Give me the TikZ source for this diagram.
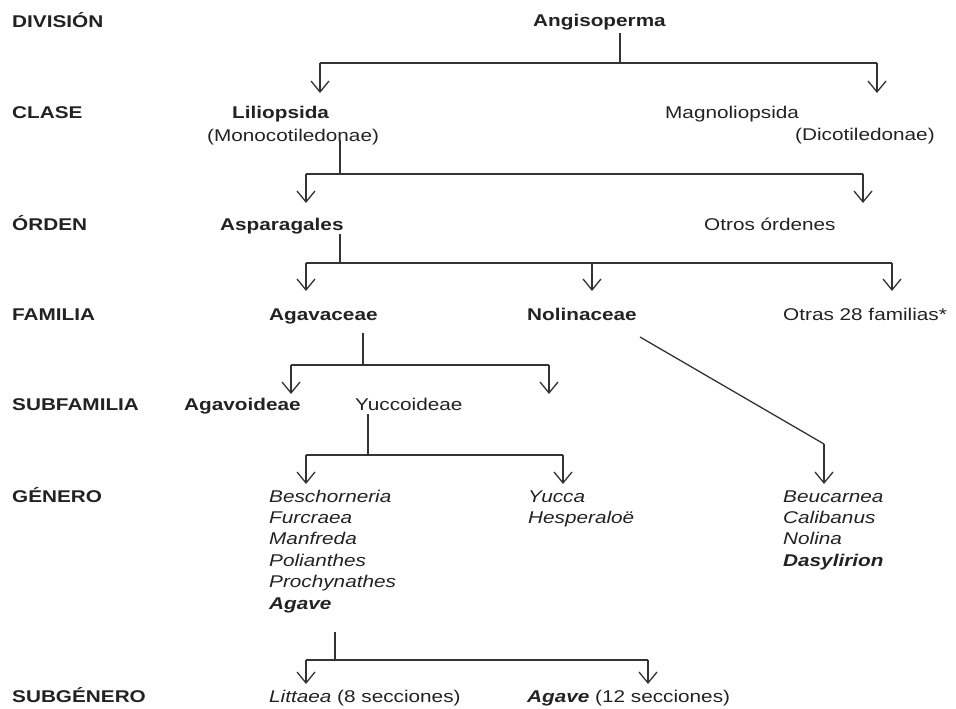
\documentclass[tikz,border=0pt]{standalone}
\usepackage{fontspec}
\setmainfont{Liberation Sans}[FakeStretch=1.22]
\usetikzlibrary{arrows.meta}
\definecolor{ink}{HTML}{222222}
\definecolor{linec}{HTML}{333333}
\tikzset{
  txt/.style={anchor=base west, inner sep=0pt, text=ink, font=\fontsize{17}{21.4}\selectfont},
  lvl/.style={txt, font=\fontsize{17}{21.4}\selectfont\bfseries},
  bld/.style={txt, font=\fontsize{17}{21.4}\selectfont\bfseries},
  itl/.style={txt, font=\fontsize{17}{21.4}\selectfont\itshape},
  bit/.style={txt, font=\fontsize{17}{21.4}\selectfont\bfseries\itshape},
  ln/.style={draw=linec, line width=1.3pt},
  arr/.style={ln, -{Straight Barb[length=11pt,width=18pt,line width=1.3pt]}}
}
\begin{document}
\begin{tikzpicture}[x=1pt,y=-1pt]
\useasboundingbox (0,0) rectangle (956,709);
% level labels
\node[lvl] (lDiv) at (12,28) {DIVISIÓN};
\node[lvl] (lCla) at (12,118) {CLASE};
\node[lvl] (lOrd) at (12,230) {ÓRDEN};
\node[lvl] (lFam) at (12,320) {FAMILIA};
\node[lvl] (lSub) at (12,410) {SUBFAMILIA};
\node[lvl] (lGen) at (12,502) {GÉNERO};
\node[lvl] (lSgn) at (12,702) {SUBGÉNERO};
% taxa
\node[bld] (angi) at (533,27) {Angisoperma};
\node[bld] (lili) at (232,118) {Liliopsida};
\node[txt] (mono) at (207,141) {(Monocotiledonae)};
\node[txt] (magn) at (665,118) {Magnoliopsida};
\node[txt] (dico) at (795,140) {(Dicotiledonae)};
\node[bld] (aspa) at (220,230) {Asparagales};
\node[txt] (otord) at (704,230) {Otros órdenes};
\node[bld] (agav) at (269,320) {Agavaceae};
\node[bld] (noli) at (527,320) {Nolinaceae};
\node[txt] (otfam) at (783,320) {Otras 28 familias*};
\node[bld] (agvd) at (184,410) {Agavoideae};
\node[txt] (yucd) at (355,410) {Yuccoideae};
% genera
\node[itl] (gBes) at (269,502) {Beschorneria};
\node[itl] (gFur) at (269,523.4) {Furcraea};
\node[itl] (gMan) at (269,544.8) {Manfreda};
\node[itl] (gPol) at (269,566.2) {Polianthes};
\node[itl] (gPro) at (269,587.6) {Prochynathes};
\node[bit] (gAga) at (269,609) {Agave};
\node[itl] (gYuc) at (528,502) {Yucca};
\node[itl] (gHes) at (528,523.4) {Hesperaloë};
\node[itl] (gBeu) at (783,502) {Beucarnea};
\node[itl] (gCal) at (783,523.4) {Calibanus};
\node[itl] (gNol) at (783,544.8) {Nolina};
\node[bit] (gDas) at (783,566.2) {Dasylirion};
\node[txt] (litt) at (269,702) {\textit{Littaea} (8 secciones)};
\node[txt] (agsg) at (527,702) {\textbf{\textit{Agave}} (12 secciones)};
% junction coordinates
\coordinate (a0) at (620,33); \coordinate (a1) at (620,63);
\coordinate (a2) at (320,63); \coordinate (a3) at (877,63);
\coordinate (b0) at (340,140); \coordinate (b1) at (340,174);
\coordinate (b2) at (306,174); \coordinate (b3) at (863,174);
\coordinate (c0) at (340,234); \coordinate (c1) at (340,263);
\coordinate (c2) at (306,263); \coordinate (c3) at (592,263); \coordinate (c4) at (892,263);
\coordinate (d0) at (363,333); \coordinate (d1) at (363,365);
\coordinate (d2) at (291,365); \coordinate (d3) at (549,365);
\coordinate (e0) at (368,414); \coordinate (e1) at (368,455);
\coordinate (e2) at (306,455); \coordinate (e3) at (563,455);
\coordinate (f0) at (640,337); \coordinate (f1) at (824,444);
\coordinate (g0) at (335,632); \coordinate (g1) at (335,660);
\coordinate (g2) at (306,660); \coordinate (g3) at (648,660);
% connectors
\draw[ln] (a0) -- (a1); \draw[ln] (a2) -- (a3);
\draw[arr] (a2) -- (a2 |- 0,93);
\draw[arr] (a3) -- (a3 |- 0,93);
\draw[ln] (b0) -- (b1); \draw[ln] (b2) -- (b3);
\draw[arr] (b2) -- (b2 |- 0,203);
\draw[arr] (b3) -- (b3 |- 0,203);
\draw[ln] (c0) -- (c1); \draw[ln] (c2) -- (c4);
\draw[arr] (c2) -- (c2 |- 0,291);
\draw[arr] (c3) -- (c3 |- 0,291);
\draw[arr] (c4) -- (c4 |- 0,291);
\draw[ln] (d0) -- (d1); \draw[ln] (d2) -- (d3);
\draw[arr] (d2) -- (d2 |- 0,394);
\draw[arr] (d3) -- (d3 |- 0,394);
\draw[ln] (e0) -- (e1); \draw[ln] (e2) -- (e3);
\draw[arr] (e2) -- (e2 |- 0,484);
\draw[arr] (e3) -- (e3 |- 0,484);
\draw[ln] (f0) -- (f1);
\draw[arr] (f1) -- (f1 |- 0,484);
\draw[ln] (g0) -- (g1); \draw[ln] (g2) -- (g3);
\draw[arr] (g2) -- (g2 |- 0,684);
\draw[arr] (g3) -- (g3 |- 0,684);
\end{tikzpicture}
\end{document}
